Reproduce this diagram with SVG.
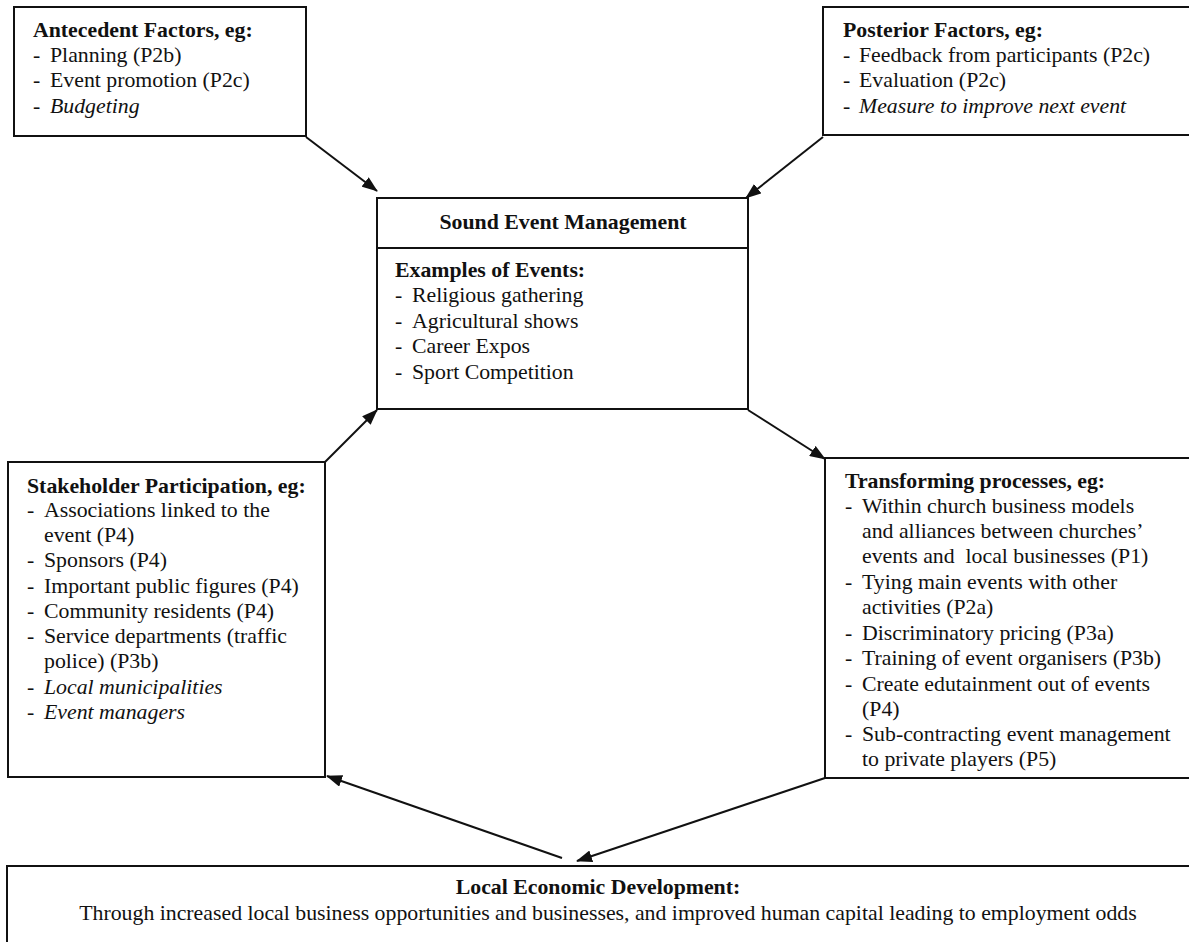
<svg xmlns="http://www.w3.org/2000/svg" width="1189" height="942" viewBox="0 0 1189 942">
<defs>
<style>
text{font-family:'Liberation Serif','Times New Roman',Times,'DejaVu Serif',serif;font-size:21.8px;fill:#111}
.b{font-weight:bold}
.i{font-style:italic}
.box{fill:#fff;stroke:#111;stroke-width:2}
.c{fill:none;stroke:#111;stroke-width:2}
</style>
<marker id="ah" markerUnits="userSpaceOnUse" markerWidth="16" markerHeight="12" refX="15" refY="6" orient="auto">
<path d="M0,0 L16,6 L0,12 z" fill="#111"/>
</marker>
</defs>
<rect width="1189" height="942" fill="#fff"/>

<g id="antecedent">
<rect class="box" x="14" y="7" width="292" height="129"/>
<text class="b" x="33" y="37">Antecedent Factors, eg:</text>
<text x="33" y="62">-</text><text x="50" y="62">Planning (P2b)</text>
<text x="33" y="87">-</text><text x="50" y="87">Event promotion (P2c)</text>
<text x="33" y="113">-</text><text class="i" x="50" y="113">Budgeting</text>
</g>

<g id="posterior">
<rect class="box" x="823" y="7" width="375" height="128"/>
<text class="b" x="843" y="37">Posterior Factors, eg:</text>
<text x="843" y="62">-</text><text x="859" y="62">Feedback from participants (P2c)</text>
<text x="843" y="87">-</text><text x="859" y="87">Evaluation (P2c)</text>
<text x="843" y="113">-</text><text class="i" x="859" y="113">Measure to improve next event</text>
</g>

<g id="sound">
<rect class="box" x="377" y="198" width="371" height="211"/>
<line class="c" x1="377" y1="248" x2="748" y2="248"/>
<text class="b" x="563" y="229" text-anchor="middle">Sound Event Management</text>
<text class="b" x="395" y="277">Examples of Events:</text>
<text x="395" y="302">-</text><text x="412" y="302">Religious gathering</text>
<text x="395" y="328">-</text><text x="412" y="328">Agricultural shows</text>
<text x="395" y="353">-</text><text x="412" y="353">Career Expos</text>
<text x="395" y="379">-</text><text x="412" y="379">Sport Competition</text>
</g>

<g id="stakeholder">
<rect class="box" x="8" y="462" width="317" height="315"/>
<text class="b" x="27" y="493">Stakeholder Participation, eg:</text>
<text x="27" y="517">-</text><text x="44" y="517">Associations linked to the</text>
<text x="44" y="542">event (P4)</text>
<text x="27" y="567">-</text><text x="44" y="567">Sponsors (P4)</text>
<text x="27" y="593">-</text><text x="44" y="593">Important public figures (P4)</text>
<text x="27" y="618">-</text><text x="44" y="618">Community residents (P4)</text>
<text x="27" y="643">-</text><text x="44" y="643">Service departments (traffic</text>
<text x="44" y="668">police) (P3b)</text>
<text x="27" y="694">-</text><text class="i" x="44" y="694">Local municipalities</text>
<text x="27" y="719">-</text><text class="i" x="44" y="719">Event managers</text>
</g>

<g id="transforming">
<rect class="box" x="825" y="458" width="373" height="320"/>
<text class="b" x="845" y="488">Transforming processes, eg:</text>
<text x="845" y="513">-</text><text x="862" y="513">Within church business models</text>
<text x="862" y="538">and alliances between churches’</text>
<text x="862" y="563" xml:space="preserve">events and  local businesses (P1)</text>
<text x="845" y="589">-</text><text x="862" y="589">Tying main events with other</text>
<text x="862" y="614">activities (P2a)</text>
<text x="845" y="640">-</text><text x="862" y="640">Discriminatory pricing (P3a)</text>
<text x="845" y="665">-</text><text x="862" y="665">Training of event organisers (P3b)</text>
<text x="845" y="691">-</text><text x="862" y="691">Create edutainment out of events</text>
<text x="862" y="716">(P4)</text>
<text x="845" y="741">-</text><text x="862" y="741">Sub-contracting event management</text>
<text x="862" y="766">to private players (P5)</text>
</g>

<g id="led">
<rect class="box" x="7" y="866" width="1195" height="90"/>
<text class="b" x="598" y="894" text-anchor="middle">Local Economic Development:</text>
<text x="608" y="920" text-anchor="middle">Through increased local business opportunities and businesses, and improved human capital leading to employment odds</text>
</g>

<g id="connectors">
<line class="c" x1="306" y1="137" x2="377" y2="191" marker-end="url(#ah)"/>
<line class="c" x1="823" y1="137" x2="746" y2="198" marker-end="url(#ah)"/>
<line class="c" x1="325" y1="462" x2="377" y2="410" marker-end="url(#ah)"/>
<line class="c" x1="748" y1="410" x2="825" y2="459" marker-end="url(#ah)"/>
<line class="c" x1="562" y1="858" x2="327" y2="776" marker-end="url(#ah)"/>
<line class="c" x1="825" y1="778" x2="577" y2="861" marker-end="url(#ah)"/>
</g>
</svg>
